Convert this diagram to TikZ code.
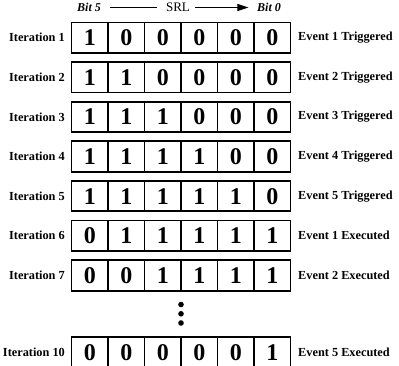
\documentclass[tikz,border=0pt]{standalone}
\usepackage{fontspec}
\setmainfont{Liberation Serif}
\usetikzlibrary{arrows.meta}
\tikzset{
  cell/.style={draw, line width=1.1pt, minimum width=36.5pt, minimum height=30.5pt,
    inner sep=0pt, outer sep=0pt, font=\fontsize{24}{26}\selectfont\bfseries},
  outerbox/.style={draw, line width=1.8pt},
  itlab/.style={anchor=east, inner sep=0pt, font=\fontsize{12.3}{14}\selectfont\bfseries},
  evlab/.style={anchor=west, inner sep=0pt, font=\fontsize{12.3}{14}\selectfont\bfseries},
  bitlab/.style={inner sep=0pt, font=\fontsize{12}{14}\selectfont\bfseries\itshape},
  srllab/.style={inner sep=0pt, font=\fontsize{13}{15}\selectfont},
  dotmark/.style={circle, fill=black, inner sep=0pt, minimum size=5.6pt},
  conn/.style={line width=0.9pt}
}
\begin{document}
\begin{tikzpicture}[x=1pt,y=-1pt]
\useasboundingbox (0,0) rectangle (399,366);
% header
\node[bitlab] (bitfive) at (89,7.5) {Bit 5};
\node[srllab] (srl) at (178,7.5) {SRL};
\node[bitlab] (bitzero) at (269,7.5) {Bit 0};
\draw[conn, shorten <=9pt, shorten >=9pt] (bitfive.east) -- (srl.west);
\draw[conn, -{Triangle[length=11pt,width=7pt]}, shorten <=5pt, shorten >=8.5pt] (srl.east) -- (bitzero.west);
% rows
\foreach \name/\y/\bits/\ev in {
  1/22.5/{1,0,0,0,0,0}/Event 1 Triggered,
  2/62.1/{1,1,0,0,0,0}/Event 2 Triggered,
  3/101.7/{1,1,1,0,0,0}/Event 3 Triggered,
  4/141.3/{1,1,1,1,0,0}/Event 4 Triggered,
  5/180.9/{1,1,1,1,1,0}/Event 5 Triggered,
  6/220.5/{0,1,1,1,1,1}/Event 1 Executed,
  7/260.1/{0,0,1,1,1,1}/Event 2 Executed,
  10/337/{0,0,0,0,0,1}/Event 5 Executed}{
  \node[itlab] (it\name) at (65,{\y+15.25}) {Iteration \name};
  \foreach \b [count=\c] in \bits {
    \node[cell] (r\name c\c) at ({71.5+36.5*(\c-0.5)},{\y+15.25}) {\b};
  }
  \draw[outerbox] (r\name c1.north west) rectangle (r\name c6.south east);
  \node[evlab] (ev\name) at (298,{\y+15.25}) {\ev};
}
% dots
\node[dotmark] (d1) at (181,304.5) {};
\node[dotmark] (d2) at (181,313.8) {};
\node[dotmark] (d3) at (181,323) {};
\end{tikzpicture}
\end{document}
